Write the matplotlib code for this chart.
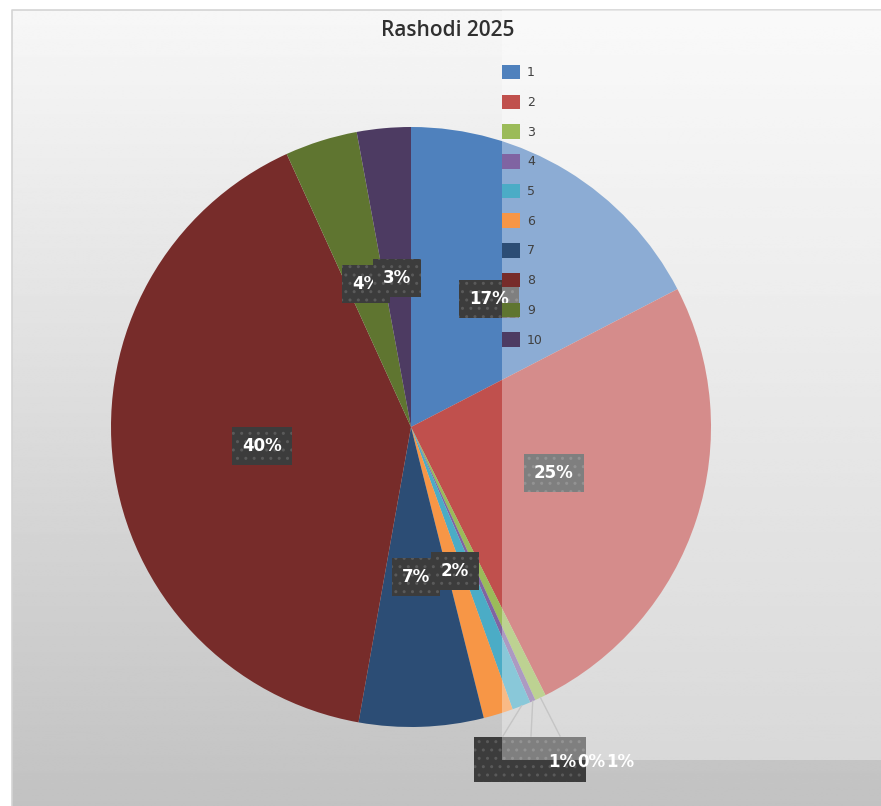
import numpy as np
import matplotlib
matplotlib.use('Agg')
from matplotlib import pyplot as plt
from matplotlib.patches import Rectangle

# data
categories = ['1', '2', '3', '4', '5', '6', '7', '8', '9', '10']
shares = [17.4, 25.2, 0.6, 0.3, 1.0, 1.6, 6.7, 40.4, 3.9, 2.9]
colors = ['#4F81BD', '#C0504D', '#9BBB59', '#8064A2', '#4BACC6',
          '#F79646', '#2C4D75', '#772C2A', '#5F7530', '#4D3B62']
title = 'Rashodi 2025'

W, H = 881, 806
cx, cy, R = 411, H - 427, 300

fig = plt.figure(figsize=(W / 100, H / 100), dpi=100, facecolor='white')
ax = fig.add_axes([0, 0, 1, 1])

# chart area background (light at the top, grey at the bottom)
rows = np.linspace(247, 194, 400)
grad = np.repeat(rows[:, None], 2, axis=1)
ax.imshow(grad, cmap='gray', vmin=0, vmax=255, extent=(12, W, 0, H - 10),
          aspect='auto', zorder=0, interpolation='bilinear')
ax.plot([12, 12, W], [0, H - 10, H - 10], color='#d4d4d4', lw=1.2, zorder=0.5)

wedges, texts, autotexts = ax.pie(
    shares, colors=colors, startangle=90, counterclock=False,
    center=(cx, cy), radius=R, pctdistance=0.5,
    autopct=lambda p: f'{p:.0f}%',
    wedgeprops=dict(linewidth=0, zorder=1),
    textprops=dict(color='white', fontsize=12, fontweight='bold'))

box = dict(boxstyle='square,pad=0.6', fc='#3c3c3c', ec='#5a5a5a', lw=0, hatch='..')
small = []
for i, t in enumerate(autotexts):
    t.set_zorder(3)
    if shares[i] < 1.5:
        small.append(i)
    else:
        t.set_bbox(box)

# callout for the thin slices at the bottom
ax.add_patch(Rectangle((474, H - 782), 112, 45, fc='#3c3c3c', ec='#5a5a5a',
                       lw=0, hatch='..', zorder=2.5))
line_end_x = [503, 531, 560]
text_x = [562, 591, 620]
for k, i in enumerate(reversed(small)):
    w = wedges[i]
    mid = np.deg2rad((w.theta1 + w.theta2) / 2)
    px, py = cx + R * np.cos(mid), cy + R * np.sin(mid)
    ax.plot([px, line_end_x[k]], [py, H - 736], color='#a6a6a6', lw=1, zorder=2.6)
    autotexts[i].set_position((text_x[k], H - 762))
    autotexts[i].set_ha('center')

# washed-out band on the right side
ax.add_patch(Rectangle((502, H - 760), W - 502, 750, fc='white', alpha=0.35,
                       lw=0, zorder=4))

ax.set_xlim(0, W)
ax.set_ylim(0, H)
ax.set_axis_off()

leg = ax.legend(wedges, categories, loc='upper left',
                bbox_to_anchor=(502 / W, 1 - 65 / H), bbox_transform=fig.transFigure,
                frameon=False, borderpad=0, borderaxespad=0, fontsize=9,
                handlelength=1.4, handleheight=1.4, handletextpad=0.6,
                labelspacing=1.22, labelcolor='#404040')
leg.set_zorder(5)

fig.text(448 / W, 1 - 31 / H, title, ha='center', va='center',
         fontsize=15, color='#303030', fontweight='semibold',
         family=['Liberation Sans Narrow', 'Open Sans', 'DejaVu Sans'])

fig.savefig('out.png', dpi=100, facecolor='white')
